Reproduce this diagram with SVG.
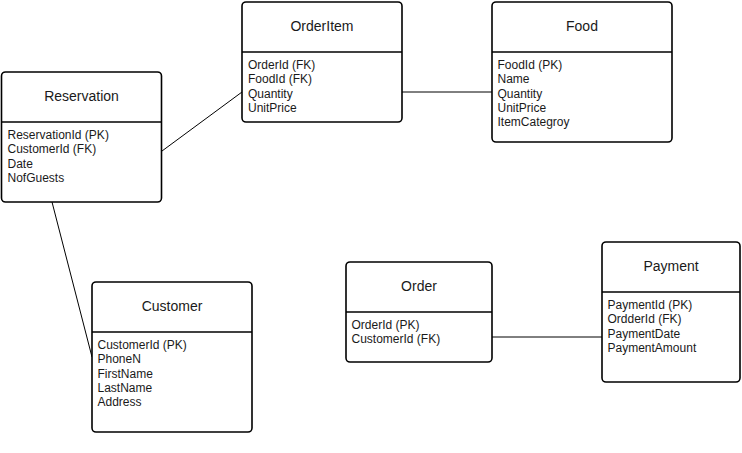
<svg xmlns="http://www.w3.org/2000/svg" width="742" height="453" viewBox="0 0 742 453">
<style>
.box{fill:#fff;stroke:#000;stroke-width:1.6}
.div{stroke:#000;stroke-width:1.3}
.h{font-family:"Liberation Sans",Arial,sans-serif;font-size:14px;fill:#1a1a1a;text-anchor:middle}
.r{font-family:"Liberation Sans",Arial,sans-serif;font-size:12px;fill:#1a1a1a}
.c{stroke:#000;stroke-width:1;fill:none}
</style>
<rect width="742" height="453" fill="#fff"/>
<g id="connectors">
<line class="c" x1="162" y1="151" x2="242" y2="92"/>
<line class="c" x1="402" y1="92" x2="492" y2="92"/>
<line class="c" x1="52" y1="202" x2="92" y2="357"/>
<line class="c" x1="492" y1="337" x2="602" y2="337"/>
</g>
<g id="reservation">
<rect class="box" x="1.5" y="72" width="160" height="130" rx="4"/>
<line class="div" x1="1.5" y1="122" x2="161.5" y2="122"/>
<text class="h" x="81.5" y="101">Reservation</text>
<text class="r" x="7.5" y="139">ReservationId (PK)<tspan x="7.5" dy="14.3">CustomerId (FK)</tspan><tspan x="7.5" dy="14.3">Date</tspan><tspan x="7.5" dy="14.3">NofGuests</tspan></text>
</g>
<g id="orderitem">
<rect class="box" x="242" y="2" width="160" height="120" rx="4"/>
<line class="div" x1="242" y1="52" x2="402" y2="52"/>
<text class="h" x="322" y="31">OrderItem</text>
<text class="r" x="248" y="69">OrderId (FK)<tspan x="248" dy="14.3">FoodId (FK)</tspan><tspan x="248" dy="14.3">Quantity</tspan><tspan x="248" dy="14.3">UnitPrice</tspan></text>
</g>
<g id="food">
<rect class="box" x="492" y="2" width="180" height="140" rx="4"/>
<line class="div" x1="492" y1="52" x2="672" y2="52"/>
<text class="h" x="582" y="31">Food</text>
<text class="r" x="497.5" y="69">FoodId (PK)<tspan x="497.5" dy="14.3">Name</tspan><tspan x="497.5" dy="14.3">Quantity</tspan><tspan x="497.5" dy="14.3">UnitPrice</tspan><tspan x="497.5" dy="14.3">ItemCategroy</tspan></text>
</g>
<g id="customer">
<rect class="box" x="92" y="282" width="160" height="150" rx="4"/>
<line class="div" x1="92" y1="332" x2="252" y2="332"/>
<text class="h" x="172" y="311">Customer</text>
<text class="r" x="97.5" y="349">CustomerId (PK)<tspan x="97.5" dy="14.3">PhoneN</tspan><tspan x="97.5" dy="14.3">FirstName</tspan><tspan x="97.5" dy="14.3">LastName</tspan><tspan x="97.5" dy="14.3">Address</tspan></text>
</g>
<g id="order">
<rect class="box" x="346" y="262" width="146" height="100" rx="4"/>
<line class="div" x1="346" y1="312" x2="492" y2="312"/>
<text class="h" x="419" y="291">Order</text>
<text class="r" x="351.5" y="329">OrderId (PK)<tspan x="351.5" dy="14.3">CustomerId (FK)</tspan></text>
</g>
<g id="payment">
<rect class="box" x="602" y="242" width="138" height="140" rx="4"/>
<line class="div" x1="602" y1="292" x2="740" y2="292"/>
<text class="h" x="671" y="271">Payment</text>
<text class="r" x="607.5" y="309">PaymentId (PK)<tspan x="607.5" dy="14.3">OrdderId (FK)</tspan><tspan x="607.5" dy="14.3">PaymentDate</tspan><tspan x="607.5" dy="14.3">PaymentAmount</tspan></text>
</g>
</svg>
